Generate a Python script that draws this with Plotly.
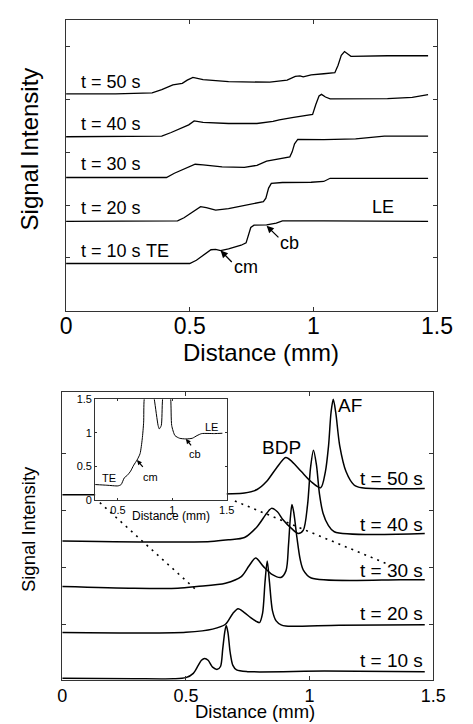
import plotly.graph_objects as go

FONT = "Liberation Sans, Arial, sans-serif"

# ---------------- Top panel data (Distance mm vs Signal Intensity, offset) ----
top_labels = ["t = 10 s", "t = 20 s", "t = 30 s", "t = 40 s", "t = 50 s"]
top_x10 = [0, 0.20, 0.40, 0.50, 0.527, 0.56, 0.586, 0.605, 0.625, 0.657, 0.708, 0.728, 0.738, 0.747, 0.76, 0.811, 0.85, 0.875, 1.042, 1.30, 1.464]
top_y10 = [0.895, 0.89, 0.895, 0.895, 0.957, 1.07, 1.155, 1.16, 1.14, 1.17, 1.24, 1.285, 1.42, 1.576, 1.62, 1.625, 1.657, 1.70, 1.70, 1.70, 1.69]
top_x20 = [0, 0.20, 0.451, 0.477, 0.515, 0.544, 0.567, 0.605, 0.657, 0.734, 0.798, 0.808, 0.819, 0.830, 0.875, 0.991, 1.042, 1.068, 1.17, 1.464]
top_y20 = [1.69, 1.69, 1.70, 1.76, 1.885, 1.97, 1.95, 1.905, 1.93, 2.00, 2.065, 2.13, 2.32, 2.41, 2.425, 2.43, 2.445, 2.505, 2.505, 2.505]
top_x30 = [0, 0.20, 0.406, 0.438, 0.477, 0.522, 0.554, 0.631, 0.721, 0.772, 0.811, 0.862, 0.905, 0.914, 0.924, 0.937, 1.042, 1.171, 1.235, 1.287, 1.464]
top_y30 = [2.52, 2.515, 2.52, 2.60, 2.68, 2.77, 2.76, 2.72, 2.71, 2.75, 2.83, 2.88, 2.91, 3.00, 3.155, 3.24, 3.235, 3.25, 3.27, 3.30, 3.30]
top_x40 = [0, 0.20, 0.387, 0.425, 0.464, 0.496, 0.518, 0.554, 0.657, 0.772, 0.837, 0.852, 0.862, 0.914, 0.965, 0.997, 1.010, 1.023, 1.033, 1.049, 1.068, 1.30, 1.40, 1.464]
top_y40 = [3.29, 3.29, 3.30, 3.37, 3.45, 3.515, 3.59, 3.56, 3.54, 3.54, 3.58, 3.60, 3.61, 3.65, 3.68, 3.71, 3.90, 4.06, 4.09, 4.04, 4.005, 4.01, 4.035, 4.085]
top_x50 = [0, 0.20, 0.348, 0.387, 0.432, 0.470, 0.49, 0.513, 0.554, 0.657, 0.824, 0.894, 0.927, 0.946, 0.959, 0.991, 1.042, 1.087, 1.10, 1.113, 1.126, 1.139, 1.152, 1.30, 1.464]
top_y50 = [4.10, 4.10, 4.12, 4.18, 4.27, 4.30, 4.36, 4.41, 4.37, 4.33, 4.32, 4.36, 4.43, 4.44, 4.42, 4.46, 4.48, 4.50, 4.64, 4.83, 4.90, 4.86, 4.81, 4.82, 4.82]

# ---------------- Bottom panel data ----------------
bot_x10 = [0, 0.29, 0.45, 0.50, 0.53, 0.55, 0.563, 0.576, 0.59, 0.608, 0.627, 0.64, 0.649, 0.657, 0.663, 0.67, 0.679, 0.69, 0.705, 0.75, 1.06, 1.466]
bot_y10 = [0.064, 0.055, 0.055, 0.075, 0.15, 0.29, 0.38, 0.41, 0.38, 0.26, 0.22, 0.27, 0.58, 0.87, 0.99, 0.87, 0.52, 0.29, 0.21, 0.18, 0.19, 0.18]
bot_x20 = [0, 0.35, 0.5, 0.608, 0.66, 0.69, 0.711, 0.735, 0.762, 0.785, 0.798, 0.81, 0.82, 0.829, 0.838, 0.85, 0.865, 0.885, 0.904, 1.12, 1.466]
bot_y20 = [0.865, 0.857, 0.87, 0.925, 1.01, 1.2, 1.28, 1.22, 1.126, 1.06, 1.04, 1.2, 1.75, 2.12, 1.75, 1.25, 1.07, 1.0, 0.98, 0.995, 1.0]
bot_x30 = [0, 0.29, 0.467, 0.544, 0.66, 0.724, 0.755, 0.782, 0.814, 0.85, 0.884, 0.905, 0.915, 0.922, 0.929, 0.937, 0.949, 0.962, 0.975, 1.007, 1.37, 1.466]
bot_y30 = [1.67, 1.64, 1.64, 1.67, 1.73, 1.845, 2.03, 2.17, 2.02, 1.88, 1.83, 1.95, 2.4, 2.85, 3.11, 2.95, 2.53, 2.15, 1.96, 1.82, 1.79, 1.79]
bot_x40 = [0, 0.415, 0.6, 0.672, 0.737, 0.788, 0.826, 0.846, 0.87, 0.891, 0.929, 0.955, 0.975, 0.992, 1.004, 1.016, 1.028, 1.04, 1.055, 1.075, 1.1, 1.466]
bot_y40 = [2.47, 2.45, 2.46, 2.49, 2.53, 2.72, 2.95, 3.04, 2.98, 2.85, 2.68, 2.60, 2.66, 3.1, 3.75, 4.06, 3.8, 3.3, 2.95, 2.75, 2.63, 2.60]
bot_x50 = [0, 0.287, 0.544, 0.737, 0.788, 0.826, 0.865, 0.904, 0.929, 0.968, 1.006, 1.045, 1.064, 1.077, 1.087, 1.096, 1.106, 1.122, 1.148, 1.18, 1.212, 1.466]
bot_y50 = [3.28, 3.28, 3.29, 3.31, 3.37, 3.51, 3.74, 3.93, 3.86, 3.68, 3.51, 3.40, 3.68, 4.14, 4.72, 4.95, 4.72, 4.14, 3.68, 3.45, 3.40, 3.39]
bot_label_y = [0.38, 1.20, 1.96, 2.75, 3.56]

# ---------------- Inset data ----------------
ins_x = [0.29, 0.398, 0.5, 0.529, 0.558, 0.587, 0.616, 0.645, 0.675, 0.703, 0.723, 0.736, 0.741, 0.79, 0.834, 0.869, 0.88, 0.898, 0.91, 0.95, 0.985, 0.994, 1.024, 1.067, 1.125, 1.183, 1.227, 1.27, 1.387, 1.46]
ins_y = [0.23, 0.22, 0.21, 0.23, 0.33, 0.37, 0.43, 0.52, 0.595, 0.69, 0.91, 1.16, 1.5, 1.9, 1.5, 1.11, 1.06, 1.11, 1.5, 1.9, 1.5, 1.11, 0.96, 0.92, 0.91, 0.92, 0.96, 0.99, 0.99, 0.995]

# zoom guide lines (bottom panel coordinates)
guide1_x = [0.152, 0.541]
guide1_y = [3.14, 1.615]
guide2_x = [0.698, 1.318]
guide2_y = [3.17, 2.06]

x_ticks = [0, 0.5, 1, 1.5]
x_ticktext = ["0", "0.5", "1", "1.5"]

fig = go.Figure()
top_series = [(top_x10, top_y10), (top_x20, top_y20), (top_x30, top_y30), (top_x40, top_y40), (top_x50, top_y50)]
for xs, ys in top_series:
    fig.add_trace(go.Scatter(x=xs, y=ys, mode="lines", line=dict(color="black", width=1.3),
                             xaxis="x", yaxis="y", showlegend=False, hoverinfo="skip"))
bot_series = [(bot_x10, bot_y10), (bot_x20, bot_y20), (bot_x30, bot_y30), (bot_x40, bot_y40), (bot_x50, bot_y50)]
for xs, ys in bot_series:
    fig.add_trace(go.Scatter(x=xs, y=ys, mode="lines", line=dict(color="black", width=1.5, shape="spline", smoothing=0.8),
                             xaxis="x2", yaxis="y2", showlegend=False, hoverinfo="skip"))
for gx, gy in [(guide1_x, guide1_y), (guide2_x, guide2_y)]:
    fig.add_trace(go.Scatter(x=gx, y=gy, mode="lines", line=dict(color="black", width=1.6, dash="2px,5px"),
                             xaxis="x2", yaxis="y2", showlegend=False, hoverinfo="skip"))
fig.add_trace(go.Scatter(x=ins_x, y=ins_y, mode="lines", line=dict(color="black", width=1.0, shape="spline", smoothing=0.6),
                         xaxis="x3", yaxis="y3", showlegend=False, hoverinfo="skip"))

W, H = 473, 724
def dx(a, b):
    return [a / W, b / W]
def dy(top, bot):
    return [1 - bot / H, 1 - top / H]

axcol = "#333333"
common = dict(showline=True, linecolor=axcol, linewidth=1, mirror="ticks", ticks="inside",
              tickcolor=axcol, showgrid=False, zeroline=False)

fig.update_layout(
    width=W, height=H, margin=dict(l=0, r=0, t=0, b=0),
    paper_bgcolor="white", plot_bgcolor="white",
    font=dict(family=FONT, color="black"),
    xaxis=dict(domain=dx(63, 452), range=[0, 1.5], anchor="y", tickvals=x_ticks, ticktext=x_ticktext,
               ticklen=4, tickfont=dict(size=23), ticklabelstandoff=-5, **common),
    yaxis=dict(domain=dy(14, 310), range=[0, 5.5], anchor="x", tickvals=[1, 2, 3, 4, 5],
               showticklabels=False, ticklen=4, **common),
    xaxis2=dict(domain=dx(59, 448), range=[0, 1.5], anchor="y2", tickvals=x_ticks, ticktext=x_ticktext,
                ticklen=4, tickfont=dict(size=18), **common),
    yaxis2=dict(domain=dy(393, 685), range=[0.04, 5.07], anchor="x2", tickvals=[1, 2, 3, 4],
                showticklabels=False, ticklen=4, **common),
    xaxis3=dict(domain=dx(93.5, 231.5), range=[0.29, 1.5], anchor="y3", tickvals=[0.5, 1, 1.5],
                ticktext=["0.5", "1", "1.5"], ticklen=2, tickfont=dict(size=11), **common),
    yaxis3=dict(domain=dy(400, 502.3), range=[0, 1.5], anchor="x3", tickvals=[0, 0.5, 1, 1.5],
                ticktext=["0", "0.5", "1", "1.5"], ticklen=2, tickfont=dict(size=11), **common),
)

ann = []
# axis titles
ann.append(dict(text="Distance (mm)", x=267 / W, y=1 - 352 / H, xref="paper", yref="paper",
                showarrow=False, font=dict(size=24), xanchor="center", yanchor="middle"))
ann.append(dict(text="Signal Intensity", x=25 / W, y=1 - 145 / H, xref="paper", yref="paper",
                showarrow=False, font=dict(size=24), textangle=-90, xanchor="center", yanchor="middle"))
ann.append(dict(text="Distance (mm)", x=261 / W, y=1 - 717 / H, xref="paper", yref="paper",
                showarrow=False, font=dict(size=18.5), xanchor="center", yanchor="middle"))
ann.append(dict(text="Signal Intensity", x=23 / W, y=1 - 532 / H, xref="paper", yref="paper",
                showarrow=False, font=dict(size=18.5), textangle=-90, xanchor="center", yanchor="middle"))
ann.append(dict(text="Distance (mm)", x=173 / W, y=1 - 519 / H, xref="paper", yref="paper",
                showarrow=False, font=dict(size=12), xanchor="center", yanchor="middle"))

# top panel labels
top_label_y = [1.125, 1.95, 2.77, 3.54, 4.32]
for lab, yy in zip(top_labels, top_label_y):
    ann.append(dict(text=lab, x=0.054, y=yy, xref="x", yref="y", showarrow=False,
                    font=dict(size=18), xanchor="left", yanchor="middle"))
ann.append(dict(text="TE", x=0.37, y=1.125, xref="x", yref="y", showarrow=False, font=dict(size=18)))
ann.append(dict(text="LE", x=1.28, y=1.967, xref="x", yref="y", showarrow=False, font=dict(size=18)))
ann.append(dict(text="cb", x=0.905, y=1.285, xref="x", yref="y", showarrow=False, font=dict(size=18)))
ann.append(dict(text="cm", x=0.727, y=0.83, xref="x", yref="y", showarrow=False, font=dict(size=18)))
ann.append(dict(text="", x=0.625, y=1.14, ax=0.676, ay=0.895, xref="x", yref="y", axref="x", ayref="y",
                showarrow=True, arrowhead=2, arrowsize=1.1, arrowwidth=1.3, arrowcolor="black"))
ann.append(dict(text="", x=0.811, y=1.607, ax=0.865, ay=1.36, xref="x", yref="y", axref="x", ayref="y",
                showarrow=True, arrowhead=2, arrowsize=1.1, arrowwidth=1.3, arrowcolor="black"))

# bottom panel labels
for lab, yy in zip(top_labels, bot_label_y):
    ann.append(dict(text=lab, x=1.466, y=yy, xref="x2", yref="y2", showarrow=False,
                    font=dict(size=19), xanchor="right", yanchor="middle"))
ann.append(dict(text="AF", x=1.165, y=4.84, xref="x2", yref="y2", showarrow=False, font=dict(size=19)))
ann.append(dict(text="BDP", x=0.887, y=4.10, xref="x2", yref="y2", showarrow=False, font=dict(size=19)))

# inset labels
ann.append(dict(text="TE", x=0.413, y=0.33, xref="x3", yref="y3", showarrow=False, font=dict(size=11)))
ann.append(dict(text="cm", x=0.80, y=0.35, xref="x3", yref="y3", showarrow=False, font=dict(size=11)))
ann.append(dict(text="cb", x=1.205, y=0.69, xref="x3", yref="y3", showarrow=False, font=dict(size=11)))
ann.append(dict(text="LE", x=1.358, y=1.085, xref="x3", yref="y3", showarrow=False, font=dict(size=11)))
ann.append(dict(text="", x=0.675, y=0.595, ax=0.74, ay=0.47, xref="x3", yref="y3", axref="x3", ayref="y3",
                showarrow=True, arrowhead=2, arrowsize=0.8, arrowwidth=1.2, arrowcolor="black"))
ann.append(dict(text="", x=1.125, y=0.91, ax=1.183, ay=0.79, xref="x3", yref="y3", axref="x3", ayref="y3",
                showarrow=True, arrowhead=2, arrowsize=0.8, arrowwidth=1.2, arrowcolor="black"))

fig.update_layout(annotations=ann)
fig.write_html("out.html")
